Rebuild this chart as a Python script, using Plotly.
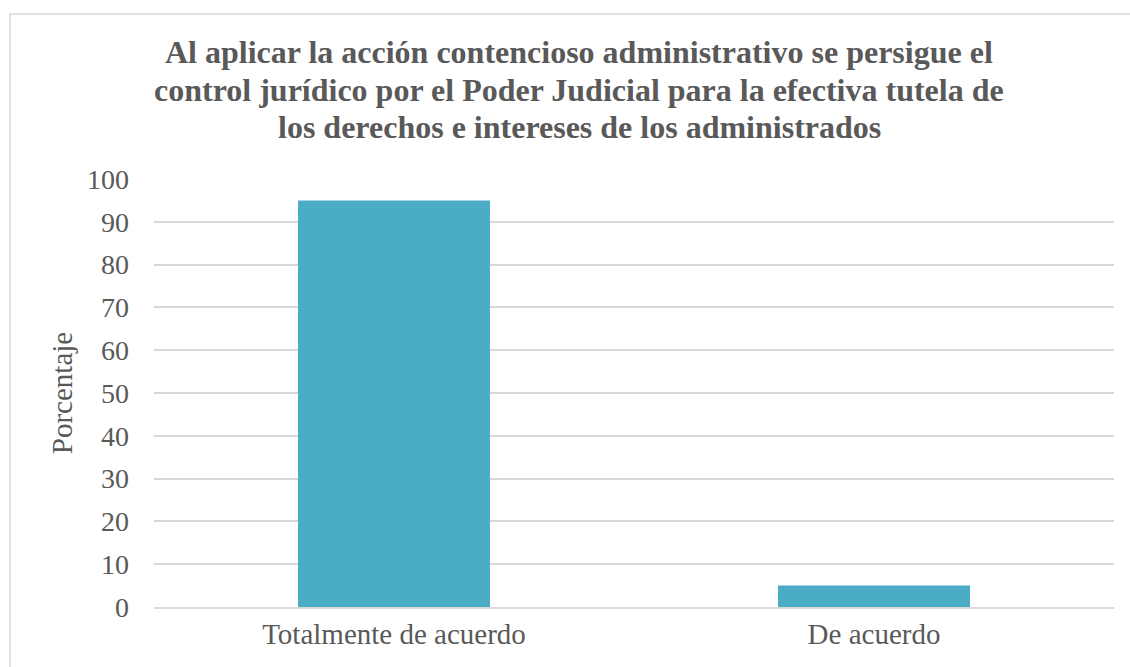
import plotly.graph_objects as go

categories = ["Totalmente de acuerdo", "De acuerdo"]
percentages = [95, 5]
y_ticks = [0, 10, 20, 30, 40, 50, 60, 70, 80, 90, 100]

title_lines = [
    "Al aplicar la acción contencioso administrativo se persigue el",
    "control jurídico por el Poder Judicial para la efectiva tutela de",
    "los derechos e intereses de los administrados",
]

W, H = 1130, 667
L, R, T, B = 154, 16, 179, 60
pw, ph = W - L - R, H - T - B

def px_to_paper_x(px):
    return (px - L) / pw

def px_to_paper_y(py):
    return (H - B - py) / ph

text_color = "#595959"
serif = "Liberation Serif"

fig = go.Figure(
    go.Bar(
        x=categories,
        y=percentages,
        marker=dict(color="#4BACC6", line=dict(width=0)),
        width=0.4,
    )
)

# title drawn line by line for tighter leading
title_center_x = 579
title_line_y = [52, 90, 127]
annotations = [
    dict(
        text=f"<b>{line}</b>",
        xref="paper",
        yref="paper",
        x=px_to_paper_x(title_center_x),
        y=px_to_paper_y(ly),
        xanchor="center",
        yanchor="middle",
        showarrow=False,
        font=dict(family=serif, size=32, color=text_color),
    )
    for line, ly in zip(title_lines, title_line_y)
]

fig.update_layout(
    width=W,
    height=H,
    margin=dict(l=L, r=R, t=T, b=B),
    paper_bgcolor="white",
    plot_bgcolor="white",
    showlegend=False,
    font=dict(family=serif, color=text_color, size=28),
    annotations=annotations,
    xaxis=dict(
        showgrid=False,
        showline=True,
        linecolor="#d9d9d9",
        linewidth=1.5,
        ticks="",
        tickfont=dict(family=serif, size=29),
    ),
    yaxis=dict(
        range=[0, 100],
        tickvals=y_ticks,
        showgrid=True,
        gridcolor="#d9d9d9",
        gridwidth=1.5,
        zeroline=False,
        showline=False,
        ticks="",
        ticklen=0,
        ticklabelstandoff=24,
        tickfont=dict(family=serif, size=28),
        title=dict(text="Porcentaje", font=dict(family=serif, size=29), standoff=5),
    ),
    shapes=[
        dict(
            type="rect",
            xref="paper",
            yref="paper",
            x0=px_to_paper_x(10),
            y0=px_to_paper_y(H + 10),
            x1=px_to_paper_x(W + 10),
            y1=px_to_paper_y(14),
            line=dict(color="#d9d9d9", width=1.5),
            fillcolor="rgba(0,0,0,0)",
            layer="below",
        )
    ],
)

fig.write_html("out.html")
